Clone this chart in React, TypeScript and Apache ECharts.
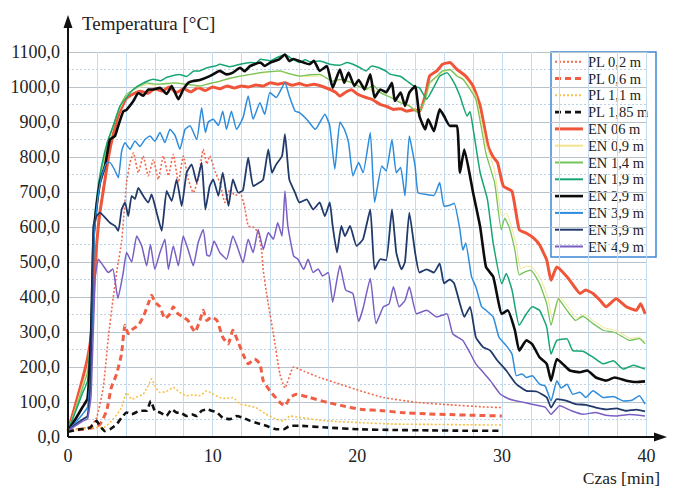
import React, { useEffect, useRef } from "react";
import * as echarts from "echarts";

// ---- data: [time in min, temperature in °C] ----
const PL_02: number[][] = [[0,18],[0.5,22],[1,25],[1.5,28],[1.98,55],[2.44,142],[2.79,285],[3.13,400],[3.4,480],[3.71,560],[4.05,727],[4.29,784],[4.52,812],[4.86,755],[5.2,803],[5.55,746],[5.9,793],[6.24,736],[6.59,803],[6.94,746],[7.28,808],[7.63,727],[7.97,803],[8.32,736],[8.66,698],[9.0,736],[9.35,822],[9.6,780],[9.8,803],[10.2,755],[10.5,727],[10.85,670],[11.2,708],[11.55,690],[11.9,698],[12.2,660],[12.46,603],[12.8,600],[13.15,584],[13.4,527],[13.5,477],[13.73,410],[14.2,295],[14.65,180],[15.0,140],[15.6,200],[16.3,188],[17.4,170],[18.8,151],[20.2,132],[21.8,113],[24.1,99],[26.4,92],[28.7,86],[30,84]];
const PL_06: number[][] = [[0,18],[0.5,20],[1,22],[1.75,27],[2.21,36],[2.67,75],[3.0,142],[3.36,180],[3.7,237],[3.94,319],[4.17,295],[4.5,309],[4.86,319],[5.2,343],[5.55,381],[5.78,405],[6.0,386],[6.36,372],[6.7,338],[7.05,352],[7.28,372],[7.6,352],[7.97,343],[8.3,333],[8.55,314],[8.78,300],[9.12,333],[9.35,362],[9.6,333],[9.93,343],[10.3,333],[10.7,285],[11.08,266],[11.4,305],[11.77,271],[12.1,237],[12.47,209],[12.9,223],[13.27,209],[13.5,161],[13.96,132],[14.65,99],[15.0,89],[15.35,113],[15.8,122],[16.7,113],[17.9,99],[19.0,89],[20.2,79],[21.8,75],[23.0,70],[24.8,66],[26.4,64],[28,62],[30,60]];
const PL_11: number[][] = [[0,18],[1.75,27],[2.5,28],[3.13,51],[3.7,84],[4.05,127],[4.4,108],[4.8,115],[5.2,122],[5.55,147],[5.78,166],[6.0,147],[6.36,127],[6.8,130],[7.28,142],[7.74,127],[8.2,118],[8.66,120],[9.12,118],[9.6,132],[10.05,122],[10.5,113],[10.96,110],[11.4,113],[11.9,94],[12.4,90],[13.0,84],[13.7,65],[14.4,51],[14.9,46],[15.35,60],[16.0,56],[17.9,46],[20.2,41],[22.5,37],[25,36],[27.5,35],[30,34]];
const PL_185: number[][] = [[0,15],[0.83,22],[1.52,27],[1.98,46],[2.2,32],[2.56,17],[2.9,22],[3.36,36],[3.7,55],[4.05,70],[4.4,65],[4.98,75],[5.44,75],[5.72,103],[6.0,75],[6.36,70],[6.8,60],[7.17,79],[7.5,70],[7.85,68],[8.2,60],[8.55,65],[8.9,60],[9.24,75],[9.6,79],[9.93,75],[10.3,70],[10.7,55],[11.2,51],[11.66,60],[12.1,55],[12.6,46],[13.0,41],[13.7,32],[14.4,22],[14.9,22],[15.35,32],[16.0,32],[17.9,27],[20.2,22],[22.5,20],[25,19],[27.5,18],[30,18]];
const EN_06: number[][] = [[0,18],[0.5,90],[1,165],[1.35,225],[1.6,290],[1.8,440],[2.0,560],[2.2,640],[2.5,720],[2.8,800],[3.1,860],[3.5,920],[4.0,965],[4.5,980],[5.0,988],[5.5,982],[6.0,995],[6.5,988],[7.0,1000],[7.5,984],[8.0,995],[8.5,986],[9.0,998],[9.5,990],[10.0,1000],[10.5,995],[11.0,1003],[11.5,997],[12.0,1003],[12.5,1000],[13.0,1006],[13.5,1003],[14.0,1012],[14.5,1008],[15.0,1012],[15.5,1005],[16.0,1010],[16.5,1004],[17.0,1008],[17.5,1003],[18.0,995],[18.5,985],[18.8,974],[19.2,985],[19.6,992],[20.0,980],[20.6,970],[21.0,965],[21.6,950],[22.0,945],[22.5,936],[23.0,938],[23.4,931],[23.9,935],[24.3,931],[24.7,975],[25.0,1031],[25.5,1046],[25.9,1065],[26.4,1070],[26.9,1050],[27.5,1031],[28.0,1003],[28.5,946],[29.05,831],[29.4,800],[29.7,784],[30.1,717],[30.7,702],[31.2,592],[31.7,582],[32.2,568],[32.6,549],[33.1,506],[33.4,448],[33.8,486],[34.5,458],[35.0,430],[35.4,410],[35.8,420],[36.3,410],[36.8,390],[37.2,372],[37.9,395],[38.6,372],[39.3,362],[39.6,381],[39.9,352]];
const EN_09: number[][] = [[0,18],[0.5,80],[1,150],[1.35,195],[1.6,300],[1.8,560],[2.0,660],[2.3,750],[2.7,830],[3.0,870],[3.5,930],[4.0,970],[4.5,990],[5.0,1000],[5.5,1008],[6.0,1005],[6.5,1010],[7.0,1008],[7.5,1012],[8.0,1008],[8.5,1005],[9.0,1000],[9.5,1008],[10.5,1015],[11.5,1028],[12.5,1035],[13.5,1040],[14.5,1045],[15.5,1035],[16.5,1030],[17.5,1032],[18.3,1015],[19.0,1020],[19.7,1010],[20.6,995],[21.6,985],[22.3,972],[23.0,958],[23.6,948],[24.2,930],[24.7,960],[25.0,1005],[25.5,1028],[25.9,1042],[26.4,1048],[26.9,1035],[27.3,1025],[27.8,1000],[28.2,975],[28.6,900],[28.9,840],[29.5,760],[30.0,630],[30.3,640],[30.6,610],[31.0,550],[31.3,480],[31.7,488],[32.1,485],[32.7,450],[33.2,395],[33.5,335],[34.0,400],[34.6,370],[35.2,340],[35.7,350],[36.4,330],[37.1,312],[37.8,305],[38.3,295],[38.9,282],[39.5,285],[39.9,272]];
const EN_14: number[][] = [[0,18],[0.5,75],[1,140],[1.35,185],[1.6,300],[1.8,570],[2.0,670],[2.3,760],[2.7,835],[3.0,875],[3.6,946],[4.05,979],[4.75,998],[5.44,1012],[6.0,1008],[6.36,1008],[7.28,1012],[8.2,1008],[9.12,1003],[9.8,1010],[10.5,1017],[11.2,1025],[11.9,1031],[12.6,1036],[13.3,1041],[14.0,1044],[14.65,1046],[15.3,1038],[16.0,1031],[16.7,1035],[17.4,1036],[18.3,1017],[18.8,1022],[19.7,1012],[20.2,1000],[20.6,993],[21.1,1005],[21.6,984],[22.3,970],[23.0,955],[23.6,946],[24.2,927],[24.7,965],[25.0,1012],[25.5,1031],[25.9,1046],[26.4,1050],[26.9,1031],[27.3,1022],[27.8,993],[28.2,965],[28.6,879],[28.9,810],[29.5,726],[29.96,592],[30.2,625],[30.5,600],[30.9,534],[31.2,463],[31.6,472],[32.0,477],[32.6,439],[33.1,381],[33.4,319],[33.9,395],[34.5,362],[35.1,333],[35.6,345],[36.3,324],[37.0,305],[37.7,300],[38.2,290],[38.8,276],[39.5,281],[39.9,266]];
const EN_19: number[][] = [[0,18],[0.5,70],[1,125],[1.35,160],[1.6,320],[1.8,600],[2.0,690],[2.3,770],[2.7,840],[3.13,889],[3.6,946],[4.05,970],[4.5,993],[5.21,1012],[5.9,1022],[6.4,1018],[6.8,1027],[7.7,1036],[8.2,1030],[8.7,1046],[9.1,1046],[9.6,1055],[10.2,1060],[10.5,1065],[11.2,1058],[11.9,1065],[12.6,1070],[13.0,1068],[13.3,1079],[14.0,1075],[14.5,1085],[15.0,1093],[15.5,1080],[16.0,1070],[16.4,1078],[16.7,1072],[17.4,1074],[18.1,1065],[18.8,1062],[19.3,1070],[19.7,1065],[20.2,1055],[20.6,1046],[21.0,1060],[21.5,1055],[22.0,1045],[22.3,1036],[23.0,1030],[23.6,1012],[24.0,1000],[24.3,998],[24.8,965],[25.3,1000],[25.7,1031],[26.2,1041],[26.7,1012],[27.1,974],[27.6,917],[27.8,930],[28.0,884],[28.5,755],[29.0,679],[29.4,554],[30.0,438],[30.3,467],[30.7,420],[31.2,319],[31.7,352],[32.1,372],[32.6,362],[33.1,314],[33.4,237],[33.8,276],[34.5,281],[34.9,247],[35.6,245],[36.3,228],[37.0,209],[37.7,218],[38.4,194],[39.1,205],[39.9,194]];
const EN_29: number[][] = [[0,18],[0.5,50],[1,85],[1.35,110],[1.6,300],[1.75,560],[1.87,622],[2.21,727],[2.56,775],[2.9,850],[3.25,860],[3.48,890],[3.82,930],[4.05,935],[4.52,960],[4.86,983],[5.21,975],[5.55,993],[5.9,993],[6.36,998],[6.82,980],[7.17,1003],[7.63,965],[7.97,993],[8.32,1012],[8.66,1017],[9.12,1020],[9.8,1031],[10.5,1046],[10.96,1036],[11.4,1041],[11.9,1055],[12.2,1045],[12.6,1060],[13.3,1070],[13.6,1060],[14.0,1070],[14.6,1079],[15.0,1093],[15.3,1074],[15.6,1080],[16.0,1074],[16.7,1065],[17.0,1075],[17.4,1046],[17.9,1060],[18.3,998],[18.8,1050],[19.1,1012],[19.4,1041],[19.8,1003],[20.1,1020],[20.5,993],[20.9,1036],[21.2,970],[21.6,993],[22.0,985],[22.4,1012],[22.6,960],[23.0,984],[23.3,946],[23.6,984],[24.0,1003],[24.3,917],[24.7,879],[24.9,908],[25.3,874],[25.7,936],[26.0,917],[26.4,889],[26.9,889],[27.1,755],[27.4,821],[28.0,700],[28.5,600],[28.9,486],[29.4,458],[30.0,352],[30.4,362],[30.9,305],[31.2,247],[31.7,276],[32.1,265],[32.6,228],[33.1,209],[33.4,161],[33.8,223],[34.2,209],[34.7,190],[35.4,185],[35.9,190],[36.5,170],[37.2,161],[37.8,170],[38.6,161],[39.3,157],[39.9,159]];
const EN_39A: number[][] = [[0,18],[0.5,40],[1,65],[1.35,85],[1.6,200],[1.8,560],[2.0,660],[2.3,740],[2.7,784],[2.9,784],[3.2,765],[3.48,741],[3.71,817],[3.94,841],[4.29,822],[4.63,846],[4.97,830],[5.32,850],[5.67,860],[6.0,845],[6.36,870],[6.7,841],[7.05,879],[7.4,862],[7.74,822],[8.09,879],[8.43,889],[8.9,850],[9.24,941],[9.5,870],[9.7,900],[10.04,908],[10.4,890],[10.7,931],[10.96,879],[11.3,931],[11.65,879],[12.1,912],[12.46,974],[12.8,908],[13.27,955],[13.6,922],[13.96,984],[14.4,970],[15.0,1012],[15.3,974],[15.7,931],[16.0,927],[16.5,908],[17.1,879],[17.4,898],[17.76,922],[18.1,889],[18.45,765],[18.8,900],[19.1,880],[19.4,841],[19.7,746],[20.1,784],[20.4,755],[20.9,870],[21.2,670],[21.7,774],[22.0,760],[22.4,850],[22.7,755],[23.0,770],[23.3,689],[23.6,860],[24.0,774],[24.2,698],[24.8,693],[25.3,690],[25.7,727],[26.0,659],[26.4,662],[26.7,668],[27.1,592],[27.3,534],[27.5,554],[27.9,458],[28.2,429],[28.6,372],[28.9,362],[29.4,343],[29.8,285],[30.3,261],[30.7,237],[31.0,175],[31.4,180],[31.7,170],[32.1,175],[32.6,151],[33.0,145],[33.4,103],[33.8,161],[34.1,140],[34.5,151],[34.9,122],[35.4,128],[35.8,113],[36.3,132],[37.0,113],[37.7,116],[38.4,103],[39.0,105],[39.5,118],[39.9,94]];
const EN_39B: number[][] = [[0,18],[0.5,35],[1,50],[1.35,60],[1.55,150],[1.75,603],[1.98,631],[2.21,641],[2.56,627],[2.9,612],[3.25,603],[3.48,589],[3.71,650],[3.94,670],[4.17,631],[4.4,689],[4.63,680],[4.86,712],[5.2,689],[5.55,670],[5.78,693],[6.13,641],[6.48,589],[6.82,703],[7.17,674],[7.51,736],[7.86,660],[8.2,755],[8.55,779],[8.9,727],[9.24,784],[9.5,650],[9.8,717],[10.04,736],[10.4,689],[10.7,755],[11.1,660],[11.4,736],[11.77,698],[12.1,705],[12.46,798],[12.8,717],[13.15,725],[13.5,736],[13.85,822],[14.1,755],[14.4,779],[14.8,803],[15.0,865],[15.3,736],[15.7,698],[16.0,670],[16.5,679],[16.95,650],[17.4,670],[17.76,631],[18.1,670],[18.3,603],[18.6,527],[18.9,603],[19.15,574],[19.5,603],[19.95,546],[20.4,565],[20.9,650],[21.2,479],[21.6,508],[22.0,505],[22.4,650],[22.7,527],[23.06,479],[23.3,500],[23.6,641],[24.0,527],[24.3,470],[24.8,479],[25.3,470],[25.7,496],[26.0,439],[26.4,450],[26.7,439],[27.1,381],[27.4,343],[27.8,372],[28.2,285],[28.7,257],[29.2,247],[29.7,218],[30.3,190],[31.0,151],[31.7,132],[32.4,130],[33.1,113],[33.4,84],[33.8,108],[34.5,103],[35.1,94],[35.8,92],[36.5,84],[37.2,79],[37.9,82],[38.6,75],[39.3,78],[39.9,73]];
const EN_49: number[][] = [[0,18],[0.5,32],[1,45],[1.35,52],[1.6,120],[1.87,450],[2.1,508],[2.44,489],[2.79,470],[3.1,480],[3.45,396],[3.82,470],[4.05,527],[4.4,500],[4.75,574],[5.1,546],[5.44,489],[5.7,550],[6.0,479],[6.36,527],[6.7,565],[6.94,479],[7.28,546],[7.63,489],[7.97,574],[8.3,536],[8.66,489],[9.0,555],[9.35,593],[9.6,520],[9.8,517],[10.1,560],[10.5,527],[10.96,508],[11.4,574],[11.77,536],[12.1,498],[12.46,565],[12.8,527],[13.15,593],[13.5,536],[13.85,584],[14.2,565],[14.5,612],[14.8,574],[15.0,703],[15.2,603],[15.6,517],[15.9,508],[16.3,479],[16.6,508],[16.95,470],[17.3,480],[17.6,460],[18.0,470],[18.3,385],[18.8,490],[19.2,420],[19.7,410],[20.1,330],[20.4,367],[20.9,453],[21.3,324],[21.8,372],[22.2,380],[22.5,429],[22.9,372],[23.3,390],[23.6,429],[24.1,352],[24.8,362],[25.5,343],[26.2,352],[26.6,295],[27.3,276],[27.8,240],[28.2,209],[28.7,185],[29.2,161],[29.9,122],[30.55,108],[31.5,99],[32.5,90],[33.0,85],[33.4,65],[34.0,89],[34.8,75],[35.6,65],[36.5,70],[37.2,62],[37.9,60],[38.8,64],[39.9,60]];

const SERIES_NAMES = ["PL 0,2 m", "PL 0,6 m", "PL 1,1 m", "PL 1,85 m", "EN 06 m", "EN 0,9 m", "EN 1,4 m", "EN 1,9 m", "EN 2,9 m", "EN 3,9 m", "EN 3,9 m", "EN 4,9 m"];
const SERIES_DATA = [PL_02, PL_06, PL_11, PL_185, EN_06, EN_09, EN_14, EN_19, EN_29, EN_39A, EN_39B, EN_49];
const X_TICKS = [0, 10, 20, 30, 40];
const Y_MAX = 1100;

const STYLES: { color: string; width: number; dash: number[] | null }[] = [
  { color: "#f26a4e", width: 1.6, dash: [2, 2] },
  { color: "#f05f45", width: 3, dash: [6, 4] },
  { color: "#f7c14c", width: 1.6, dash: [2, 2] },
  { color: "#111111", width: 2.6, dash: [6, 4] },
  { color: "#f0553a", width: 3, dash: null },
  { color: "#f1e48c", width: 1, dash: null },
  { color: "#76c35a", width: 1.3, dash: null },
  { color: "#17a673", width: 1.5, dash: null },
  { color: "#0c0c0c", width: 2.6, dash: null },
  { color: "#2d8cdb", width: 1.5, dash: null },
  { color: "#223a6a", width: 1.8, dash: null },
  { color: "#7a5fc3", width: 1.5, dash: null },
];

const FONT = "'Liberation Serif', 'Times New Roman', serif";

function buildLegend() {
  const x0 = 551, y0 = 52, w = 105, h = 205;
  const step = 16.8;
  const children: any[] = [
    { type: "rect", shape: { x: x0, y: y0, width: w, height: h }, style: { fill: "#fff", stroke: "#3d86d6", lineWidth: 1.5 } },
  ];
  SERIES_NAMES.forEach((name, i) => {
    const cy = y0 + 9.7 + i * step;
    const s = STYLES[i];
    children.push({
      type: "line",
      shape: { x1: x0 + 4, y1: cy, x2: x0 + 32, y2: cy },
      style: { stroke: s.color, lineWidth: Math.max(s.width, 2), lineDash: s.dash || undefined },
    });
    children.push({
      type: "text",
      x: x0 + 37,
      y: cy,
      style: { text: name, font: `14.5px ${FONT}`, fill: "#222", verticalAlign: "middle", textVerticalAlign: "middle" },
    });
  });
  return { type: "group", z: 200, children };
}

export default function App() {
  const ref = useRef<HTMLDivElement>(null);
  useEffect(() => {
    if (!ref.current) return;
    const chart = echarts.init(ref.current, undefined, { renderer: "svg" });
    const series = SERIES_DATA.map((d, i) => ({
      name: SERIES_NAMES[i] + (i === 10 ? " (2)" : ""),
      type: "line",
      data: d,
      showSymbol: false,
      symbol: "none",
      smooth: 0.15,
      lineStyle: { color: STYLES[i].color, width: STYLES[i].width, type: STYLES[i].dash || "solid" },
      itemStyle: { color: STYLES[i].color },
      z: 2 + i,
    }));
    chart.setOption({
      animation: false,
      backgroundColor: "#ffffff",
      grid: { left: 68, right: 26.5, top: 52, bottom: 51, containLabel: false },
      xAxis: {
        type: "value",
        min: 0,
        max: 40,
        interval: 10,
        axisLine: { show: false },
        axisTick: { show: false },
        axisLabel: {
          fontFamily: FONT,
          fontSize: 18,
          color: "#222",
          margin: 10,
          formatter: (v: number) => (X_TICKS.includes(v) ? String(v) : ""),
        },
        splitLine: { show: true, lineStyle: { color: "#c3dcef", width: 1 } },
        minorTick: { show: false, splitNumber: 5 },
        minorSplitLine: { show: true, lineStyle: { color: "#c3dcef", width: 1 } },
      },
      yAxis: {
        type: "value",
        min: 0,
        max: Y_MAX,
        interval: 100,
        axisLine: { show: false },
        axisTick: { show: false },
        axisLabel: {
          fontFamily: FONT,
          fontSize: 18,
          color: "#222",
          margin: 8,
          formatter: (v: number) => v.toFixed(1).replace(".", ","),
        },
        splitLine: { show: true, lineStyle: { color: "#b9c3cc", width: 1.2 } },
        minorTick: { show: false, splitNumber: 2 },
        minorSplitLine: { show: true, lineStyle: { color: "#bcd3e6", width: 1, type: [2, 2] } },
      },
      legend: { show: false },
      graphic: [
        { type: "line", shape: { x1: 68, y1: 437, x2: 68, y2: 26 }, style: { stroke: "#111", lineWidth: 2 }, z: 100 },
        { type: "polygon", shape: { points: [[68, 15], [63.5, 28], [72.5, 28]] }, style: { fill: "#111" }, z: 100 },
        { type: "line", shape: { x1: 68, y1: 437, x2: 656, y2: 437 }, style: { stroke: "#111", lineWidth: 2 }, z: 100 },
        { type: "polygon", shape: { points: [[667, 437], [654, 432.5], [654, 441.5]] }, style: { fill: "#111" }, z: 100 },
        { type: "text", x: 82, y: 23, style: { text: "Temperatura [°C]", font: `19px ${FONT}`, fill: "#222", verticalAlign: "middle", textVerticalAlign: "middle" }, z: 100 },
        { type: "text", x: 660, y: 478, style: { text: "Czas [min]", font: `17.5px ${FONT}`, fill: "#222", align: "right", textAlign: "right", verticalAlign: "middle" }, z: 100 },
        buildLegend(),
      ],
      series,
    });
    return () => chart.dispose();
  }, []);
  return <div ref={ref} style={{ width: 673, height: 488, position: "absolute", left: 0, top: 0 }} />;
}
